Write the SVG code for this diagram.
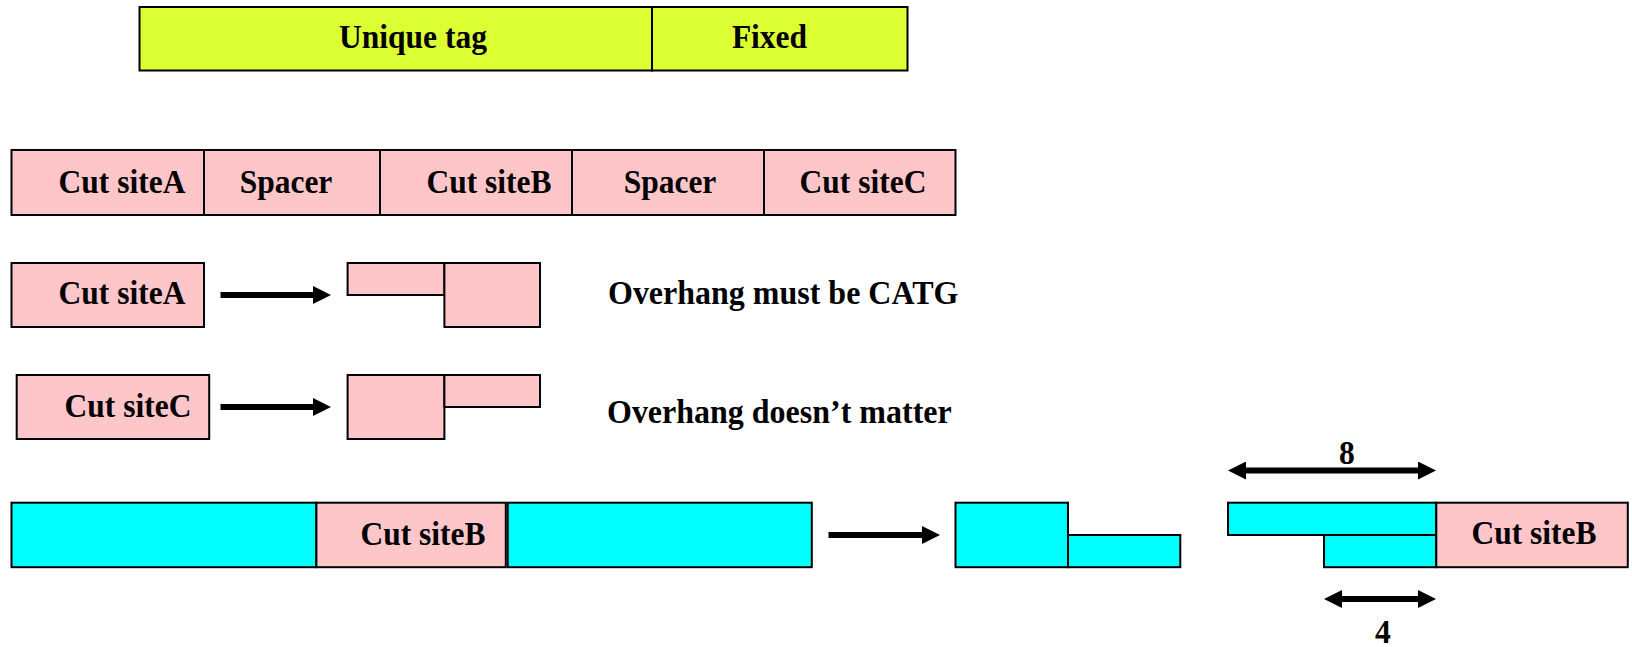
<svg xmlns="http://www.w3.org/2000/svg" width="1632" height="647" viewBox="0 0 1632 647">
  <style>
    .box { stroke: #000; stroke-width: 2; }
    .yel { fill: #DCFF33; }
    .pink { fill: #FFC6CA; }
    .cyan { fill: #00FFFF; }
    .lbl { font-family: "Liberation Serif", "Times New Roman", serif; font-weight: bold; font-size: 31.5px; fill: #000; }
    .note { font-size: 32px; }
    .mid { text-anchor: middle; }
    .arr { stroke: #000; stroke-width: 6; fill: none; }
  </style>
  <defs>
    <marker id="head" viewBox="0 0 18 18" refX="6" refY="9" markerWidth="18" markerHeight="18" markerUnits="userSpaceOnUse" orient="auto-start-reverse">
      <path d="M0,0 L18,9 L0,18 z" fill="#000"/>
    </marker>
  </defs>

  <!-- tag layout -->
  <g id="tag">
    <rect class="box yel" x="139.5" y="7" width="512.5" height="63.5"/>
    <rect class="box yel" x="652" y="7" width="255.5" height="63.5"/>
    <text class="lbl mid" transform="translate(413,48.3) scale(1,1.07)">Unique tag</text>
    <text class="lbl mid" transform="translate(769.5,48.3) scale(1,1.07)">Fixed</text>
  </g>

  <!-- cassette of cut sites and spacers -->
  <g id="cassette">
    <rect class="box pink" x="11.5" y="150" width="192.5" height="65"/>
    <rect class="box pink" x="204" y="150" width="176" height="65"/>
    <rect class="box pink" x="380" y="150" width="192" height="65"/>
    <rect class="box pink" x="572" y="150" width="192" height="65"/>
    <rect class="box pink" x="764" y="150" width="191.5" height="65"/>
    <text class="lbl mid" transform="translate(122,193) scale(1,1.07)">Cut siteA</text>
    <text class="lbl mid" transform="translate(286,193) scale(1,1.07)">Spacer</text>
    <text class="lbl mid" transform="translate(489,193) scale(1,1.07)">Cut siteB</text>
    <text class="lbl mid" transform="translate(670,193) scale(1,1.07)">Spacer</text>
    <text class="lbl mid" transform="translate(863,193) scale(1,1.07)">Cut siteC</text>
  </g>

  <!-- site A and its product -->
  <g id="siteA">
    <rect class="box pink" x="11.5" y="263" width="192.5" height="64"/>
    <text class="lbl mid" transform="translate(122,304) scale(1,1.07)">Cut siteA</text>
  </g>
  <g id="productA">
    <rect class="box pink" x="347.6" y="263" width="96.8" height="32"/>
    <rect class="box pink" x="444.4" y="263" width="95.6" height="64"/>
  </g>
  <g id="noteA">
    <text class="lbl note" transform="translate(608,304) scale(1,1.07)">Overhang must be CATG</text>
  </g>

  <!-- site C and its product -->
  <g id="siteC">
    <rect class="box pink" x="16.7" y="375" width="192.5" height="64"/>
    <text class="lbl mid" transform="translate(128,416.5) scale(1,1.07)">Cut siteC</text>
  </g>
  <g id="productC">
    <rect class="box pink" x="347.6" y="375" width="96.8" height="64"/>
    <rect class="box pink" x="444.4" y="375" width="95.6" height="32"/>
  </g>
  <g id="noteC">
    <text class="lbl note" transform="translate(607,423) scale(1,1.07)">Overhang doesn’t matter</text>
  </g>

  <!-- site B flanked by sequence -->
  <g id="siteB">
    <rect class="box cyan" x="11.5" y="502.7" width="304.9" height="64.5"/>
    <rect class="box pink" x="316.4" y="502.7" width="189.4" height="64.5"/>
    <rect class="box cyan" x="507.7" y="502.7" width="304.1" height="64.5"/>
    <text class="lbl mid" transform="translate(423,545) scale(1,1.07)">Cut siteB</text>
  </g>
  <g id="productB">
    <rect class="box cyan" x="955.5" y="502.7" width="112.5" height="64.5"/>
    <rect class="box cyan" x="1068" y="535" width="112.3" height="32.2"/>
  </g>
  <g id="ligated">
    <rect class="box cyan" x="1228" y="502.7" width="208.3" height="32.3"/>
    <rect class="box cyan" x="1324" y="535" width="112.3" height="32.2"/>
    <rect class="box pink" x="1436.3" y="502.7" width="191.5" height="64.5"/>
    <text class="lbl mid" transform="translate(1534,544) scale(1,1.07)">Cut siteB</text>
  </g>
  <g id="dims">
    <text class="lbl mid" transform="translate(1347,464) scale(1,1.07)">8</text>
    <text class="lbl mid" transform="translate(1383,643) scale(1,1.07)">4</text>
  </g>

  <!-- connectors -->
  <g id="connectors">
    <line class="arr" x1="220.5" y1="295" x2="319" y2="295" marker-end="url(#head)"/>
    <line class="arr" x1="220.5" y1="407" x2="319" y2="407" marker-end="url(#head)"/>
    <line class="arr" x1="828.5" y1="535" x2="928" y2="535" marker-end="url(#head)"/>
    <line class="arr" x1="1240" y1="470.5" x2="1424" y2="470.5" marker-start="url(#head)" marker-end="url(#head)"/>
    <line class="arr" x1="1336" y1="599" x2="1424" y2="599" marker-start="url(#head)" marker-end="url(#head)"/>
  </g>
</svg>
